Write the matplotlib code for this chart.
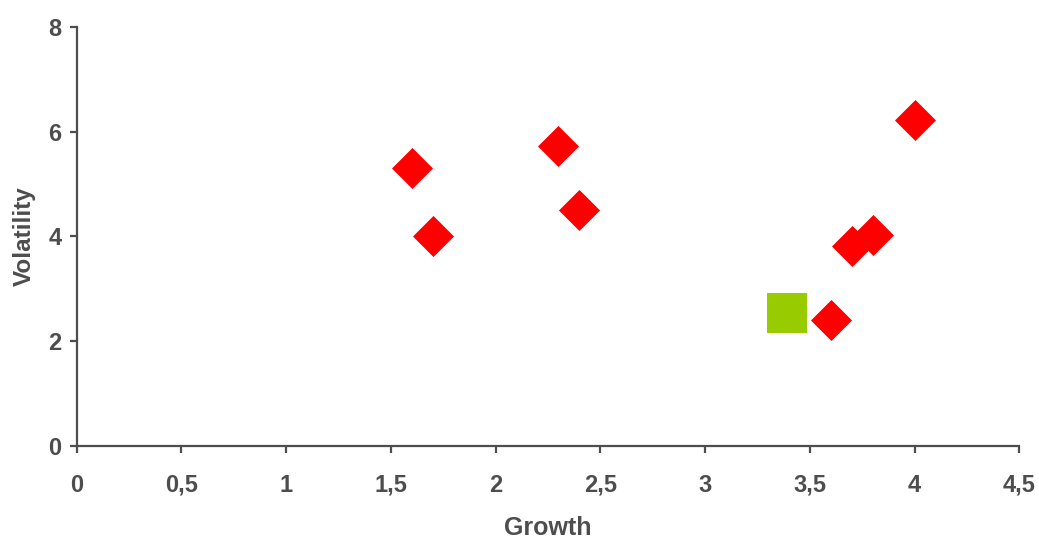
import matplotlib.pyplot as plt
from matplotlib.ticker import FuncFormatter

# données
growth = [1.6, 1.7, 2.3, 2.4, 3.6, 3.7, 3.8, 4.0]
volatility = [5.3, 4.0, 5.72, 4.5, 2.4, 3.82, 4.02, 6.22]
ref_growth = [3.39]
ref_volatility = [2.53]

x_ticks = [0, 0.5, 1, 1.5, 2, 2.5, 3, 3.5, 4, 4.5]
y_ticks = [0, 2, 4, 6, 8]

gris = '#4d4d4d'
plt.rcParams['font.family'] = ['Liberation Sans', 'DejaVu Sans']

fig = plt.figure(figsize=(10.39, 5.41), dpi=100)
ax = fig.add_axes([0.0738, 0.176, 0.9072, 0.774])

ax.scatter(ref_growth, ref_volatility, marker='s', s=28.8**2, color='#99cc00',
           linewidths=0, zorder=3)
ax.scatter(growth, volatility, marker='D', s=20.9**2, color='#ff0000',
           linewidths=0, zorder=4)

ax.set_xlim(0, 4.5)
ax.set_ylim(0, 8)
ax.set_xticks(x_ticks)
ax.set_yticks(y_ticks)

# virgule décimale
ax.xaxis.set_major_formatter(FuncFormatter(lambda v, p: ('%g' % v).replace('.', ',')))

for s in ['top', 'right']:
    ax.spines[s].set_visible(False)
for s in ['left', 'bottom']:
    ax.spines[s].set_color(gris)
    ax.spines[s].set_linewidth(1.6)
ax.spines['left'].set_zorder(1)

ax.tick_params(axis='both', colors=gris, width=1.6, length=5,
               labelsize=17)
ax.tick_params(axis='x', pad=15)
ax.tick_params(axis='y', pad=6)
for lab in ax.get_xticklabels() + ax.get_yticklabels():
    lab.set_fontweight('bold')

ax.set_xlabel('Growth', fontsize=18, fontweight='bold', color=gris, labelpad=14)
ax.set_ylabel('Volatility', fontsize=17.5, fontweight='bold', color=gris, labelpad=9)

fig.savefig('out.png', dpi=100)
